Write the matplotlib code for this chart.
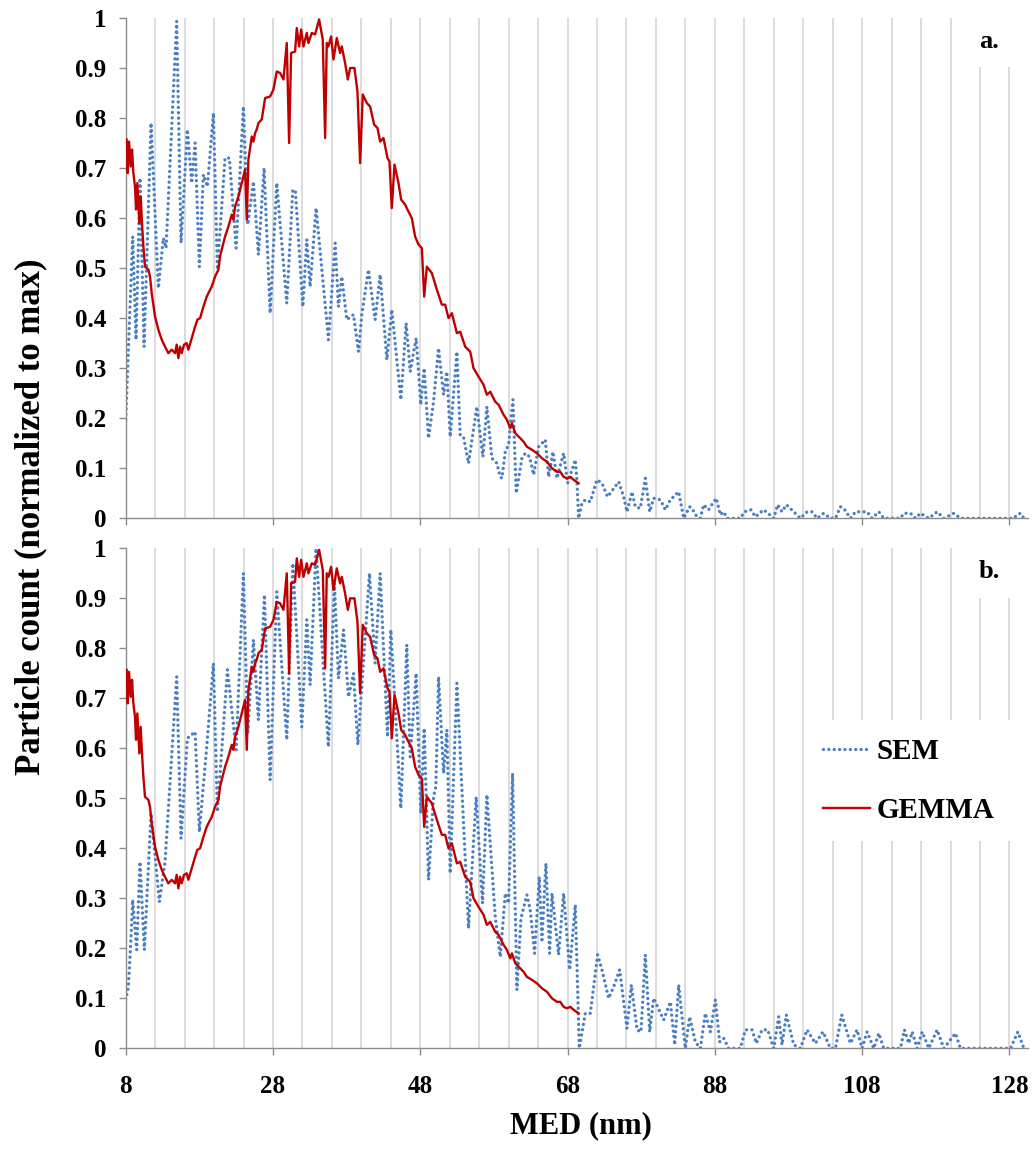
import matplotlib
matplotlib.use("Agg")
import matplotlib.pyplot as plt
import numpy as np

# GEMMA size distribution (same curve in both panels)
gemma_x = [8.13, 8.27, 8.45, 8.68, 8.86, 9.04, 9.26, 9.40, 9.58, 9.85, 10.03, 10.21, 10.40, 10.62,
           11.08, 11.30, 11.53, 11.98, 12.43, 12.89, 13.34, 13.79, 14.25, 14.70, 14.92, 15.15, 15.38,
           15.60, 15.92, 16.28, 16.51, 16.96, 17.42, 17.73, 18.10, 18.55, 19.00, 19.23, 19.68, 20.13,
           20.36, 20.59, 20.81, 21.04, 21.49, 21.94, 22.40, 22.62, 22.85, 23.30, 23.76, 23.98, 24.21,
           24.44, 24.66, 25.12, 25.34, 25.57, 25.79, 26.02, 26.47, 26.93, 27.61, 28.06, 28.51, 28.97,
           29.42, 29.87, 30.19, 30.46, 31.00, 31.23, 31.55, 31.82, 32.14, 32.59, 32.81, 33.27, 33.72,
           34.26, 34.76, 35.08, 35.30, 35.53, 35.89, 36.21, 36.66, 37.11, 37.34, 37.79, 38.16, 38.47,
           39.06, 39.47, 39.83, 40.19, 40.74, 41.19, 41.73, 42.19, 42.55, 43.00, 43.55, 43.82, 44.13,
           44.50, 45.04, 45.40, 45.95, 46.26, 46.85, 47.30, 47.76, 48.21, 48.53, 48.89, 49.57, 50.25,
           50.93, 51.38, 51.83, 52.29, 52.97, 53.42, 54.10, 54.78, 55.23, 55.91, 56.59, 57.04, 57.50,
           58.18, 58.63, 59.31, 59.76, 60.22, 60.44, 60.90, 61.58, 62.03, 62.48, 63.16, 63.84, 64.52,
           65.20, 65.88, 66.56, 67.01, 67.46, 67.92, 68.37, 68.82, 69.50]
gemma_y = [0.757, 0.690, 0.753, 0.703, 0.737, 0.690, 0.663, 0.617, 0.670, 0.590, 0.643, 0.590, 0.543,
           0.503, 0.497, 0.483, 0.450, 0.403, 0.377, 0.357, 0.343, 0.330, 0.337, 0.330, 0.347, 0.320,
           0.343, 0.330, 0.347, 0.350, 0.337, 0.360, 0.383, 0.397, 0.400, 0.423, 0.443, 0.450, 0.463,
           0.483, 0.490, 0.497, 0.523, 0.537, 0.563, 0.583, 0.607, 0.597, 0.623, 0.643, 0.670, 0.683,
           0.697, 0.597, 0.717, 0.763, 0.753, 0.770, 0.777, 0.790, 0.797, 0.840, 0.843, 0.857, 0.893,
           0.890, 0.877, 0.950, 0.750, 0.930, 0.933, 0.980, 0.943, 0.977, 0.943, 0.970, 0.950, 0.970,
           0.967, 0.997, 0.957, 0.760, 0.950, 0.943, 0.963, 0.917, 0.960, 0.930, 0.943, 0.910, 0.877,
           0.900, 0.900, 0.853, 0.710, 0.847, 0.830, 0.823, 0.787, 0.780, 0.753, 0.760, 0.720, 0.713,
           0.620, 0.707, 0.670, 0.637, 0.627, 0.617, 0.600, 0.563, 0.547, 0.540, 0.443, 0.503, 0.490,
           0.457, 0.427, 0.427, 0.400, 0.410, 0.370, 0.373, 0.343, 0.333, 0.300, 0.283, 0.267, 0.247,
           0.253, 0.233, 0.227, 0.207, 0.197, 0.180, 0.190, 0.170, 0.160, 0.153, 0.143, 0.137, 0.130,
           0.120, 0.113, 0.100, 0.093, 0.093, 0.083, 0.080, 0.083, 0.077, 0.070]

# SEM, panel a
sem_a_x = [8.00, 8.95, 9.40, 9.94, 10.49, 11.44, 12.43, 13.11, 13.48, 14.92, 15.51, 16.37, 16.96, 17.42,
           18.00, 18.55, 19.09, 19.91, 20.45, 21.49, 22.08, 22.99, 23.98, 24.57, 25.34, 26.02, 26.79,
           27.61, 28.51, 29.87, 30.69, 31.05, 32.05, 32.59, 33.04, 33.85, 35.53, 36.44, 36.89, 37.34,
           38.02, 38.93, 39.61, 40.06, 40.96, 41.87, 42.55, 43.46, 44.13, 45.36, 46.08, 46.63, 47.44,
           48.07, 48.53, 49.12, 49.80, 50.48, 51.16, 51.61, 52.06, 52.97, 53.42, 53.87, 54.55, 55.68,
           56.50, 57.04, 57.72, 58.40, 58.85, 59.09, 59.54, 59.99, 60.58, 61.03, 61.80, 62.26, 62.84,
           63.39, 64.07, 64.97, 65.43, 66.01, 66.56, 67.46, 68.01, 69.05, 69.28, 69.50, 69.95, 70.41,
           71.09, 71.99, 72.67, 73.44, 74.94, 75.62, 76.07, 76.75, 77.20, 77.88, 78.56, 79.15, 79.69,
           80.60, 81.28, 81.96, 83.09, 83.77, 84.58, 84.90, 85.35, 86.03, 86.48, 87.16, 87.84, 88.20,
           88.74, 89.20, 89.65, 91.46, 92.01, 92.91, 93.50, 94.63, 95.45, 95.99, 96.53, 97.12, 97.71,
           98.71, 99.61, 100.52, 101.20, 101.88, 102.78, 103.69, 104.37, 105.05, 105.50, 106.41,
           107.09, 107.99, 108.67, 109.35, 110.26, 110.94, 113.20, 113.66, 114.56, 115.24, 115.92,
           117.05, 118.18, 119.09, 120.45, 121.35, 128.60, 129.05, 129.51, 129.96]
sem_a_y = [0.197, 0.563, 0.357, 0.680, 0.343, 0.790, 0.460, 0.560, 0.540, 0.993, 0.550, 0.777, 0.670,
           0.750, 0.503, 0.687, 0.663, 0.810, 0.497, 0.720, 0.720, 0.540, 0.823, 0.587, 0.673, 0.527,
           0.700, 0.410, 0.670, 0.430, 0.657, 0.653, 0.423, 0.557, 0.463, 0.620, 0.357, 0.550, 0.423,
           0.483, 0.397, 0.407, 0.333, 0.407, 0.497, 0.397, 0.487, 0.317, 0.417, 0.237, 0.390, 0.293,
           0.360, 0.227, 0.300, 0.160, 0.233, 0.340, 0.247, 0.293, 0.163, 0.333, 0.167, 0.163, 0.110,
           0.223, 0.123, 0.223, 0.120, 0.110, 0.083, 0.080, 0.133, 0.147, 0.237, 0.050, 0.120, 0.130,
           0.123, 0.087, 0.143, 0.157, 0.083, 0.133, 0.080, 0.130, 0.070, 0.117, 0.073, 0.000, 0.030,
           0.037, 0.033, 0.077, 0.070, 0.043, 0.073, 0.043, 0.013, 0.053, 0.023, 0.020, 0.080, 0.013,
           0.040, 0.037, 0.017, 0.037, 0.053, 0.000, 0.023, 0.020, 0.007, 0.000, 0.027, 0.017, 0.033,
           0.040, 0.007, 0.013, 0.000, 0.000, 0.013, 0.017, 0.003, 0.017, 0.007, 0.000, 0.027, 0.013,
           0.027, 0.013, 0.000, 0.013, 0.013, 0.000, 0.010, 0.000, 0.000, 0.023, 0.020, 0.000, 0.013,
           0.013, 0.013, 0.000, 0.013, 0.000, 0.000, 0.010, 0.010, 0.000, 0.010, 0.000, 0.013, 0.000,
           0.010, 0.000, 0.000, 0.007, 0.010, 0.000]

# SEM, panel b
sem_b_x = [8.00, 8.36, 8.68, 8.95, 9.49, 9.94, 10.53, 11.44, 12.57, 13.34, 14.92, 15.51, 16.37, 17.42,
           18.00, 19.00, 19.91, 20.45, 21.81, 22.99, 23.98, 24.57, 25.34, 26.02, 26.84, 27.61, 28.51,
           29.87, 30.69, 31.91, 32.59, 33.04, 33.85, 34.85, 35.53, 36.34, 36.89, 37.57, 38.25, 38.93,
           39.52, 41.10, 41.87, 42.55, 43.55, 44.00, 45.36, 46.17, 46.63, 47.44, 48.07, 48.53, 49.12,
           49.80, 50.11, 50.48, 51.16, 51.61, 52.06, 52.97, 54.55, 55.59, 56.45, 57.04, 58.18, 58.86,
           59.54, 59.99, 60.53, 61.12, 61.67, 62.48, 62.93, 63.52, 64.16, 64.52, 65.06, 65.56, 65.88,
           66.78, 67.46, 68.28, 69.05, 69.59, 70.41, 71.09, 72.08, 72.67, 73.58, 74.26, 75.07, 76.07,
           76.66, 77.43, 77.97, 78.56, 79.15, 79.69, 81.05, 81.96, 82.55, 83.09, 83.99, 84.58, 85.35,
           86.03, 86.71, 87.39, 88.07, 88.65, 89.20, 89.88, 91.46, 92.14, 93.05, 93.64, 94.41, 95.18,
           95.99, 96.67, 97.12, 97.71, 98.71, 99.61, 100.52, 101.65, 102.69, 103.69, 104.37, 105.23,
           106.41, 107.31, 107.99, 108.67, 109.58, 110.26, 110.94, 113.20, 113.74, 114.33, 114.79,
           115.47, 116.15, 117.05, 118.18, 119.09, 120.67, 121.35, 128.15, 129.14, 129.96]
sem_b_y = [0.097, 0.123, 0.210, 0.297, 0.197, 0.373, 0.197, 0.470, 0.293, 0.373, 0.743, 0.420, 0.620,
           0.633, 0.433, 0.603, 0.770, 0.473, 0.757, 0.597, 0.950, 0.630, 0.817, 0.657, 0.907, 0.537,
           0.913, 0.617, 0.970, 0.643, 0.857, 0.727, 1.000, 0.760, 0.603, 0.930, 0.740, 0.837, 0.703,
           0.750, 0.607, 0.950, 0.770, 0.950, 0.623, 0.837, 0.480, 0.807, 0.583, 0.750, 0.470, 0.640,
           0.337, 0.503, 0.523, 0.743, 0.550, 0.637, 0.350, 0.730, 0.240, 0.503, 0.290, 0.507, 0.263,
           0.183, 0.310, 0.290, 0.550, 0.117, 0.260, 0.307, 0.277, 0.190, 0.343, 0.217, 0.370, 0.190,
           0.310, 0.187, 0.310, 0.157, 0.287, 0.000, 0.070, 0.070, 0.187, 0.157, 0.100, 0.123, 0.157,
           0.040, 0.127, 0.037, 0.033, 0.187, 0.033, 0.100, 0.057, 0.093, 0.007, 0.127, 0.000, 0.063,
           0.013, 0.000, 0.070, 0.033, 0.097, 0.013, 0.020, 0.000, 0.000, 0.037, 0.037, 0.010, 0.037,
           0.037, 0.000, 0.063, 0.007, 0.067, 0.007, 0.000, 0.037, 0.010, 0.033, 0.000, 0.000, 0.067,
           0.010, 0.037, 0.000, 0.033, 0.000, 0.030, 0.000, 0.000, 0.037, 0.010, 0.033, 0.000, 0.033,
           0.000, 0.037, 0.000, 0.030, 0.000, 0.000, 0.033, 0.000]

panel_labels = ["a.", "b."]
x_ticks = [8, 28, 48, 68, 88, 108, 128]
y_ticks = [0, 0.1, 0.2, 0.3, 0.4, 0.5, 0.6, 0.7, 0.8, 0.9, 1]
y_ticklabels = ["0", "0.1", "0.2", "0.3", "0.4", "0.5", "0.6", "0.7", "0.8", "0.9", "1"]

SERIF = "Liberation Serif"
BLUE = "#4a7fc1"
RED = "#c00000"
AXIS_GRAY = "#8c8c8c"

fig = plt.figure(figsize=(10.33, 11.51), dpi=100)
ax_a = fig.add_axes([0.1217, 0.5497, 0.8733, 0.4347])
ax_b = fig.add_axes([0.1217, 0.0892, 0.8733, 0.4344])

for ax, sem_x, sem_y, lab in [(ax_a, sem_a_x, sem_a_y, panel_labels[0]),
                              (ax_b, sem_b_x, sem_b_y, panel_labels[1])]:
    # light vertical grid every 4 nm
    for g in np.arange(12, 129, 4):
        ax.axvline(g, color="#d9d9d9", lw=1.3, zorder=0)

    ax.plot(sem_x, sem_y, color=BLUE, lw=2.4, linestyle=(0, (0.01, 1.6)),
            dash_capstyle="round", label="SEM", zorder=2)
    ax.plot(gemma_x, gemma_y, color=RED, lw=1.7, label="GEMMA", zorder=3)

    ax.set_xlim(8, 130.5)
    ax.set_ylim(0, 1)
    ax.set_xticks(x_ticks)
    ax.set_yticks(y_ticks)
    ax.set_yticklabels(y_ticklabels)
    for side in ["top", "right"]:
        ax.spines[side].set_visible(False)
    for side in ["left", "bottom"]:
        ax.spines[side].set_color(AXIS_GRAY)
        ax.spines[side].set_linewidth(1.0)
    ax.tick_params(axis="both", direction="out", length=5, width=1, color=AXIS_GRAY,
                   labelsize=18)
    ax.tick_params(axis="y", pad=9)
    ax.tick_params(axis="x", pad=14)
    for t in ax.get_xticklabels() + ax.get_yticklabels():
        t.set_fontfamily(SERIF)
        t.set_fontweight("bold")

    ax.text(0.957, 0.953, lab, transform=ax.transAxes, ha="center", va="center",
            fontsize=19, fontweight="bold", family=SERIF, zorder=5,
            bbox=dict(boxstyle="square,pad=0.55", fc="white", ec="none"))

ax_a.tick_params(axis="x", labelbottom=False)

leg = ax_b.legend(loc="center", bbox_to_anchor=(0.868, 0.535), frameon=True,
                  prop={"family": SERIF, "weight": "bold", "size": 21},
                  handlelength=1.6, handletextpad=0.25, labelspacing=1.1,
                  borderpad=0.6, fancybox=False)
leg.get_frame().set_facecolor("white")
leg.get_frame().set_edgecolor("none")
leg.get_frame().set_alpha(1)

fig.text(0.030, 0.551, "Particle count (normalized to max)", rotation=90, ha="center",
         va="center", fontsize=25, fontweight="bold", family=SERIF)
fig.text(0.562, 0.022, "MED (nm)", ha="center", va="center", fontsize=22,
         fontweight="bold", family=SERIF)

fig.savefig("out.png", dpi=100, facecolor="white")
